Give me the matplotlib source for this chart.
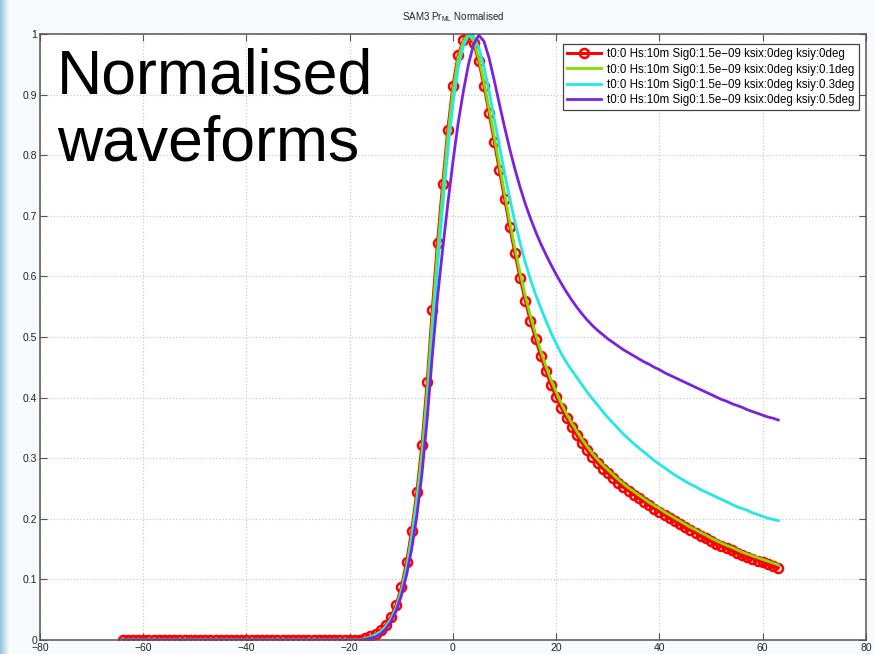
import numpy as np
import matplotlib
matplotlib.use('Agg')
import matplotlib.pyplot as plt
from matplotlib.colors import LinearSegmentedColormap

plt.rcParams['font.family'] = ['Liberation Sans', 'DejaVu Sans']

# range gate axis (one sample per gate)
gates = np.arange(-64, 64)

# flat noise floor before the leading edge (gates -64 .. -18)
floor = [0.0] * 47

# ksiy = 0 deg
pr_ksiy0 = floor + [
    0.003, 0.006, 0.010, 0.016, 0.025, 0.038, 0.058, 0.087, 0.128, 0.180,
    0.244, 0.322, 0.425, 0.545, 0.655, 0.752, 0.842, 0.915, 0.965, 0.990,
    1.000, 0.985, 0.955, 0.915, 0.870, 0.822, 0.775, 0.728, 0.682, 0.638,
    0.598, 0.560, 0.527, 0.497, 0.469, 0.444, 0.421, 0.401, 0.383, 0.367,
    0.352, 0.338, 0.325, 0.313, 0.302, 0.292, 0.283, 0.275, 0.267, 0.259,
    0.252, 0.246, 0.240, 0.234, 0.228, 0.222, 0.217, 0.212, 0.206, 0.201,
    0.196, 0.191, 0.186, 0.181, 0.177, 0.172, 0.168, 0.163, 0.159, 0.155,
    0.151, 0.148, 0.144, 0.140, 0.137, 0.134, 0.131, 0.128, 0.125, 0.122,
    0.119]

# ksiy = 0.1 deg
pr_ksiy01 = floor + [
    0.003, 0.005, 0.009, 0.014, 0.023, 0.035, 0.054, 0.082, 0.121, 0.172,
    0.235, 0.310, 0.410, 0.530, 0.641, 0.740, 0.832, 0.907, 0.960, 0.988,
    1.000, 0.988, 0.960, 0.921, 0.877, 0.830, 0.783, 0.736, 0.690, 0.646,
    0.606, 0.568, 0.535, 0.505, 0.477, 0.452, 0.429, 0.409, 0.390, 0.373,
    0.358, 0.344, 0.331, 0.319, 0.308, 0.298, 0.289, 0.281, 0.273, 0.265,
    0.258, 0.251, 0.245, 0.239, 0.233, 0.227, 0.222, 0.217, 0.211, 0.206,
    0.201, 0.196, 0.191, 0.186, 0.182, 0.177, 0.173, 0.168, 0.164, 0.160,
    0.156, 0.153, 0.149, 0.145, 0.142, 0.139, 0.136, 0.133, 0.130, 0.127,
    0.124]

# ksiy = 0.3 deg
pr_ksiy03 = floor + [
    0.002, 0.005, 0.008, 0.013, 0.021, 0.034, 0.052, 0.079, 0.116, 0.165,
    0.225, 0.290, 0.385, 0.500, 0.615, 0.715, 0.808, 0.886, 0.944, 0.980,
    0.998, 0.996, 0.978, 0.946, 0.905, 0.860, 0.815, 0.770, 0.728, 0.690,
    0.655, 0.623, 0.595, 0.570, 0.548, 0.527, 0.507, 0.489, 0.472, 0.458,
    0.445, 0.433, 0.421, 0.409, 0.398, 0.388, 0.377, 0.367, 0.358, 0.349,
    0.340, 0.332, 0.324, 0.317, 0.310, 0.303, 0.296, 0.290, 0.284, 0.278,
    0.272, 0.267, 0.262, 0.257, 0.253, 0.248, 0.244, 0.240, 0.236, 0.232,
    0.228, 0.224, 0.220, 0.217, 0.214, 0.210, 0.207, 0.204, 0.201, 0.199,
    0.197]

# ksiy = 0.5 deg
pr_ksiy05 = floor + [
    0.001, 0.003, 0.005, 0.010, 0.018, 0.030, 0.048, 0.073, 0.107, 0.150,
    0.205, 0.275, 0.365, 0.470, 0.565, 0.645, 0.720, 0.790, 0.853, 0.905,
    0.950, 0.983, 0.998, 0.988, 0.960, 0.923, 0.884, 0.846, 0.810, 0.777,
    0.747, 0.720, 0.696, 0.674, 0.654, 0.636, 0.619, 0.603, 0.588, 0.574,
    0.561, 0.549, 0.538, 0.528, 0.519, 0.511, 0.504, 0.497, 0.491, 0.485,
    0.479, 0.474, 0.469, 0.464, 0.459, 0.455, 0.450, 0.446, 0.441, 0.437,
    0.433, 0.429, 0.425, 0.421, 0.417, 0.413, 0.409, 0.405, 0.401, 0.397,
    0.394, 0.390, 0.387, 0.384, 0.380, 0.377, 0.374, 0.371, 0.368, 0.366,
    0.363]

labels = ['t0:0 Hs:10m Sig0:1.5e\u221209 ksix:0deg ksiy:0deg',
          't0:0 Hs:10m Sig0:1.5e\u221209 ksix:0deg ksiy:0.1deg',
          't0:0 Hs:10m Sig0:1.5e\u221209 ksix:0deg ksiy:0.3deg',
          't0:0 Hs:10m Sig0:1.5e\u221209 ksix:0deg ksiy:0.5deg']

fig = plt.figure(figsize=(8.75, 6.54), dpi=100, facecolor='#f8fbfd')

# pale blue slide edge on the left
edge = fig.add_axes([0, 0, 0.010, 1])
edge_cmap = LinearSegmentedColormap.from_list('edge', ['#8ec3dc', '#f8fbfd'])
edge.imshow(np.linspace(0, 1, 64)[None, :], aspect='auto', cmap=edge_cmap)
edge.axis('off')

ax = fig.add_axes([0.0457, 0.0214, 0.944, 0.9266])
ax.plot(gates, pr_ksiy0, color='#ff0000', lw=2.2, marker='o', ms=6.5,
        mfc='none', mec='#ff0000', mew=1.8, label=labels[0])
ax.plot(gates, pr_ksiy01, color='#80e000', lw=2, label=labels[1])
ax.plot(gates, pr_ksiy03, color='#22e8e8', lw=2, label=labels[2])
ax.plot(gates, pr_ksiy05, color='#7a22dd', lw=2, label=labels[3])

ax.set_xlim(-80, 80)
ax.set_ylim(0, 1)
ax.set_xticks(np.arange(-80, 81, 20))
ax.set_yticks(np.arange(0, 1.01, 0.1))
ax.set_yticklabels(['0', '0.1', '0.2', '0.3', '0.4', '0.5', '0.6', '0.7', '0.8', '0.9', '1'])
ax.set_xticklabels(['\u221280', '\u221260', '\u221240', '\u221220', '0', '20', '40', '60', '80'])
ax.tick_params(direction='in', top=True, right=True, labelsize=7.5, length=5,
               color='#555555', labelcolor='#222222', pad=2)
ax.grid(True, linestyle=':', color='#cccccc', linewidth=0.9)
for sp in ax.spines.values():
    sp.set_color('#555555')
    sp.set_linewidth(1.1)

ax.set_title('SAM3 Pr$_{\\mathregular{ML}}$ Normalised', fontsize=7, pad=10, color='#222222')

leg = ax.legend(loc='upper right', fontsize=8.3, handlelength=3.0, handletextpad=0.5,
                borderpad=0.35, labelspacing=0.3, fancybox=False, framealpha=1,
                bbox_to_anchor=(0.998, 0.993))
leg.get_frame().set_edgecolor('#444444')
leg.get_frame().set_linewidth(0.9)

ax.text(0.021, 0.978, 'Normalised\nwaveforms', transform=ax.transAxes,
        fontsize=45, va='top', ha='left', linespacing=1.17, color='black')

fig.savefig('out.png', dpi=100, facecolor=fig.get_facecolor())
